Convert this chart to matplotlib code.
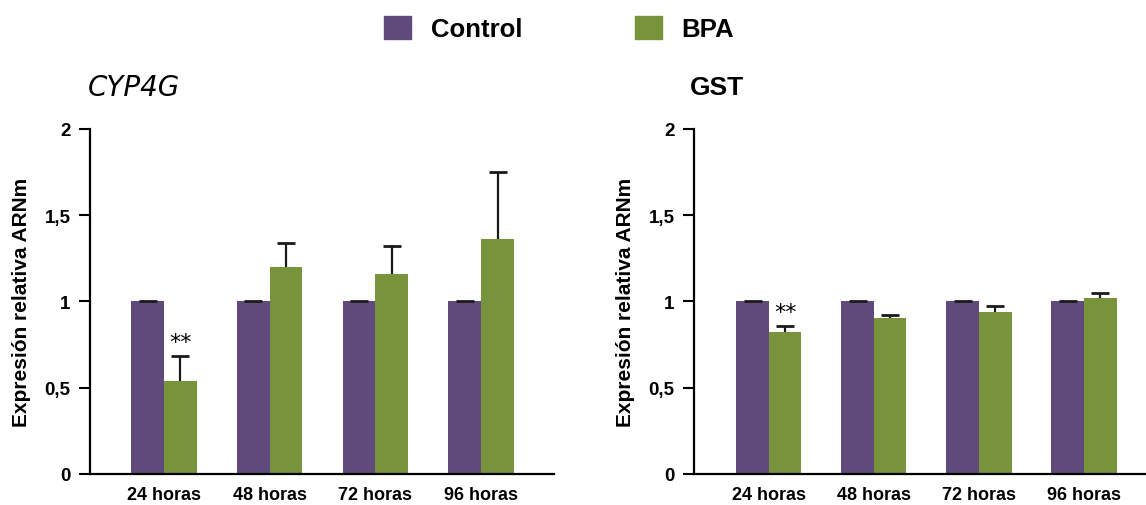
import numpy as np
import matplotlib.pyplot as plt
from matplotlib.patches import Patch

plt.rcParams['font.family'] = ['Liberation Sans', 'DejaVu Sans']

groups = ['24 horas', '48 horas', '72 horas', '96 horas']
yticks = [0, 0.5, 1, 1.5, 2]
ytick_labels = ['0', '0,5', '1', '1,5', '2']

cyp_control = [1, 1, 1, 1]
cyp_control_err = [0, 0, 0, 0]
cyp_bpa = [0.54, 1.20, 1.16, 1.36]
cyp_bpa_err = [0.145, 0.14, 0.16, 0.39]

gst_control = [1, 1, 1, 1]
gst_control_err = [0, 0, 0, 0]
gst_bpa = [0.82, 0.905, 0.94, 1.02]
gst_bpa_err = [0.04, 0.017, 0.035, 0.03]

signif = ['**', '', '', '']

c_control = '#604A7B'
c_bpa = '#77933C'

fig = plt.figure(figsize=(11.46, 5.06), dpi=100)
ax1 = fig.add_axes([0.0785, 0.0613, 0.405, 0.682])
ax2 = fig.add_axes([0.6056, 0.0613, 0.3944, 0.682])

x = np.arange(len(groups))
w = 0.31


def upper_err(ax, xpos, vals, errs):
    # only the upper half of the error bar, with a cap on top
    vals = np.asarray(vals)
    errs = np.asarray(errs)
    ax.vlines(xpos, vals, vals + errs, color='#1a1a1a', lw=1.6, zorder=3)
    ax.plot(xpos, vals + errs, ls='none', marker='_', ms=13, mew=2,
            color='#1a1a1a', zorder=3)


def draw_panel(ax, ctrl, ctrl_err, bpa, bpa_err, xlim):
    ax.bar(x - w / 2, ctrl, w, color=c_control)
    ax.bar(x + w / 2, bpa, w, color=c_bpa)
    upper_err(ax, x - w / 2, ctrl, ctrl_err)
    upper_err(ax, x + w / 2, bpa, bpa_err)
    for i, s in enumerate(signif):
        if s:
            ax.text(x[i] + w / 2, bpa[i] + bpa_err[i] + 0.02, s, ha='center',
                    va='bottom', fontsize=16, family='DejaVu Sans')
    ax.set_ylim(0, 2)
    ax.set_xlim(*xlim)
    ax.set_yticks(yticks)
    ax.set_yticklabels(ytick_labels, fontsize=13.5, fontweight='bold')
    ax.set_xticks(x)
    ax.set_xticklabels(groups, fontsize=13, fontweight='bold')
    ax.tick_params(axis='x', length=0, pad=9)
    ax.tick_params(axis='y', length=8, width=1.5, pad=6)
    for sp in ['top', 'right']:
        ax.spines[sp].set_visible(False)
    for sp in ['left', 'bottom']:
        ax.spines[sp].set_linewidth(1.6)
    ax.set_ylabel('Expresión relativa ARNm', fontsize=15, fontweight='bold', labelpad=10)


draw_panel(ax1, cyp_control, cyp_control_err, cyp_bpa, cyp_bpa_err, (-0.70, 3.69))
draw_panel(ax2, gst_control, gst_control_err, gst_bpa, gst_bpa_err, (-0.712, 3.59))

fig.text(0.077, 0.826, 'CYP4G', fontsize=20, style='italic', family='DejaVu Sans',
         va='center', ha='left')
fig.text(0.602, 0.826, 'GST', fontsize=19, fontweight='bold', va='center', ha='left')

handles = [Patch(color=c_control, label='Control'), Patch(color=c_bpa, label='BPA')]
fig.legend(handles=handles, loc='center', bbox_to_anchor=(0.488, 0.942), ncol=2,
           frameon=False, prop={'size': 18.5, 'weight': 'bold'}, handlelength=1.05,
           handleheight=1.05, handletextpad=0.75, columnspacing=4.4)

fig.savefig('out.png', dpi=100)
